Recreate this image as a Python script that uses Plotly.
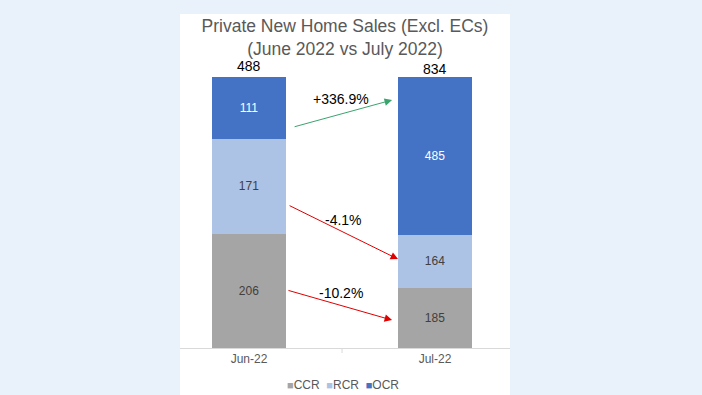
import plotly.graph_objects as go

months = ["Jun-22", "Jul-22"]
ccr = [206, 185]
rcr = [171, 164]
ocr = [111, 485]
totals = [488, 834]

colors = {"CCR": "#a5a5a5", "RCR": "#adc3e6", "OCR": "#4472c4"}
text_colors = {"CCR": "#404040", "RCR": "#404040", "OCR": "#ffffff"}
FONT = "Liberation Sans, Arial"

fig = go.Figure()
for name, vals in [("CCR", ccr), ("RCR", rcr), ("OCR", ocr)]:
    fig.add_trace(go.Bar(
        x=[0, 1], y=vals, name=name, width=0.398,
        marker=dict(color=colors[name], line=dict(width=0)),
        text=[str(v) for v in vals], textposition="inside",
        insidetextanchor="middle",
        textfont=dict(family=FONT, size=12, color=text_colors[name]),
        hoverinfo="skip", showlegend=False,
    ))

ann = []
for i, t in enumerate(totals):
    ann.append(dict(x=i, y=100, xref="x", yref="y", text=str(t), showarrow=False,
                    yanchor="bottom", yshift=[1, -2][i],
                    font=dict(family=FONT, size=14, color="#000000")))

def pct(a, b):
    return (b - a) / a * 100

changes = [pct(ocr[0], ocr[1]), pct(rcr[0], rcr[1]), pct(ccr[0], ccr[1])]
labels = [("+" if c > 0 else "") + f"{c:.1f}%" for c in changes]

arrows = [
    # (tail x, tail y, head x, head y, color, label x, label y)
    (0.237, 81.5, 0.769, 91.5, "#3aa46e", 0.495, 91.9),
    (0.210, 52.8, 0.801, 32.8, "#e00000", 0.506, 47.2),
    (0.204, 21.4, 0.769, 10.3, "#e00000", 0.495, 20.3),
]
for (tx, ty, hx, hy, col, lx, ly), lab in zip(arrows, labels):
    ann.append(dict(x=hx, y=hy, ax=tx, ay=ty, xref="x", yref="y", axref="x", ayref="y",
                    text="", showarrow=True, arrowhead=2, arrowsize=1.5, arrowwidth=1,
                    arrowcolor=col, standoff=0))
    ann.append(dict(x=lx, y=ly, xref="x", yref="y", text=lab, showarrow=False,
                    font=dict(family=FONT, size=14, color="#000000")))

# legend drawn as a single text line (small coloured squares + names)
legend_names = ["CCR", "RCR", "OCR"]
legend_text = "  ".join(
    f"<span style='color:{colors[n]};font-size:11px'>■</span>{n}" for n in legend_names)
ann.append(dict(x=(343 - 180) / 330, y=-(385 - 348) / 271, xref="paper", yref="paper",
                text=legend_text, showarrow=False, xanchor="center", yanchor="middle",
                font=dict(family=FONT, size=12, color="#595959")))

fig.update_layout(
    barmode="stack", barnorm="percent",
    width=702, height=395,
    margin=dict(l=180, r=192, t=77, b=47),
    paper_bgcolor="#e9f1fa", plot_bgcolor="#ffffff",
    title=dict(text="Private New Home Sales (Excl. ECs)<br>(June 2022 vs July 2022)",
               x=345 / 702, xanchor="center",
               y=1 - 32 / 395, yanchor="middle",
               font=dict(family=FONT, size=17.5, color="#595959")),
    showlegend=False,
    xaxis=dict(range=[-0.371, 1.403], tickvals=[0, 1], ticktext=months,
               showgrid=False, zeroline=False, showline=True, linecolor="#d9d9d9",
               linewidth=1, ticks="", tickfont=dict(family=FONT, size=12, color="#595959"),
               fixedrange=True),
    yaxis=dict(range=[0, 100], visible=False, fixedrange=True),
    annotations=ann,
    shapes=[
        dict(type="rect", xref="paper", yref="paper", x0=0, x1=1,
             y0=-(395 - 348) / 271, y1=1 + (77 - 14) / 271,
             fillcolor="#ffffff", line=dict(width=0), layer="below"),
        dict(type="line", xref="x", yref="paper", x0=0.5, x1=0.5, y0=0, y1=-5 / 271,
             line=dict(color="#d9d9d9", width=1)),
    ],
)

fig.write_html("out.html", config={"displayModeBar": False},
               post_script="document.body.style.margin='0';document.body.style.overflow='hidden';")
